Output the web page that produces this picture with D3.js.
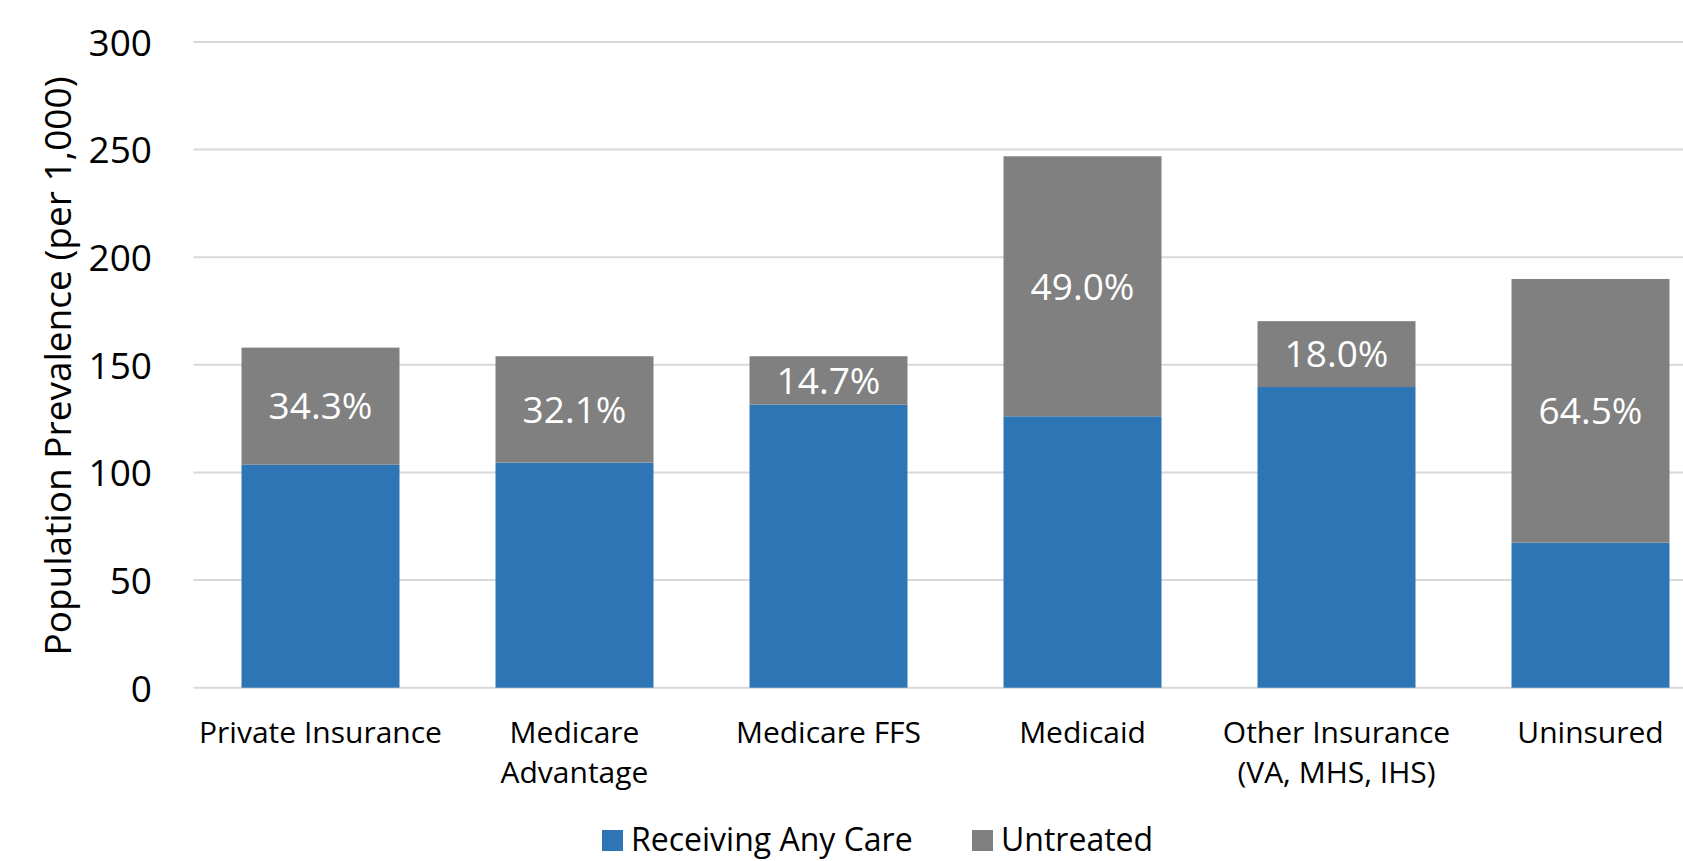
<!DOCTYPE html>
<html>
<head>
<meta charset="utf-8">
<script src="https://cdn.jsdelivr.net/npm/d3@7/dist/d3.min.js"></script>
<style>
  html, body { margin: 0; padding: 0; background: #fff; }
  svg { display: block; }
  text { font-family: "Open Sans", "Noto Sans", sans-serif; fill: #000; }
</style>
</head>
<body>
<svg id="chart" width="1683" height="861"></svg>
<script>
const categories = [
  ["Private Insurance"],
  ["Medicare", "Advantage"],
  ["Medicare FFS"],
  ["Medicaid"],
  ["Other Insurance", "(VA, MHS, IHS)"],
  ["Uninsured"]
];
const receivingAnyCare = [103.6, 104.6, 131.5, 126.1, 139.7, 67.4];
const untreated = [54.4, 49.4, 22.5, 120.8, 30.6, 122.5];
const untreatedLabels = ["34.3%", "32.1%", "14.7%", "49.0%", "18.0%", "64.5%"];
const yTicks = [0, 50, 100, 150, 200, 250, 300];
const seriesNames = ["Receiving Any Care", "Untreated"];
const seriesColors = ["#2E75B6", "#808080"];

const svg = d3.select("#chart");
const plotLeft = 193.5, plotRight = 1717.5, plotTop = 42, plotBottom = 687.7;

const x = d3.scaleBand()
  .domain(d3.range(categories.length))
  .range([plotLeft, plotRight])
  .paddingInner(0.378)
  .paddingOuter(0.189);

const y = d3.scaleLinear().domain([0, 300]).range([plotBottom, plotTop]);

// gridlines
svg.append("g").selectAll("line").data(yTicks).join("line")
  .attr("x1", plotLeft).attr("x2", plotRight)
  .attr("y1", d => y(d)).attr("y2", d => y(d))
  .attr("stroke", "#d9d9d9").attr("stroke-width", 2);

// y axis tick labels
const yAxis = d3.axisLeft(y).tickValues(yTicks).tickSize(0).tickPadding(0);
const yg = svg.append("g").attr("transform", "translate(152,0)").call(yAxis);
yg.select(".domain").remove();
yg.selectAll("text")
  .attr("font-family", "'Open Sans', sans-serif")
  .attr("font-size", 37).attr("fill", "#000")
  .attr("dy", "0.36em").attr("x", 0);

// stacked data
const stackData = categories.map((c, i) => ({ i, r: receivingAnyCare[i], u: untreated[i] }));
const stack = d3.stack().keys(["r", "u"]);
const layers = stack(stackData);

svg.append("g").selectAll("g").data(layers).join("g")
  .attr("fill", (d, k) => seriesColors[k])
  .selectAll("rect").data(d => d).join("rect")
  .attr("x", d => x(d.data.i))
  .attr("width", x.bandwidth())
  .attr("y", d => y(d[1]))
  .attr("height", d => y(d[0]) - y(d[1]));

// percent labels in untreated segments
svg.append("g").selectAll("text").data(layers[1]).join("text")
  .attr("x", d => x(d.data.i) + x.bandwidth() / 2)
  .attr("y", d => (y(d[0]) + y(d[1])) / 2)
  .attr("dy", "0.36em")
  .attr("text-anchor", "middle")
  .attr("font-size", 37)
  .style("fill", "#fff")
  .text((d, k) => untreatedLabels[k]);

// x category labels
const xg = svg.append("g");
categories.forEach((lines, i) => {
  const t = xg.append("text")
    .attr("x", x(i) + x.bandwidth() / 2)
    .attr("y", 742.7)
    .attr("text-anchor", "middle")
    .attr("font-size", 30);
  lines.forEach((ln, j) => {
    t.append("tspan")
      .attr("x", x(i) + x.bandwidth() / 2)
      .attr("dy", j === 0 ? 0 : 40.6)
      .text(ln);
  });
});

// y axis title
svg.append("text")
  .attr("transform", "translate(71,366) rotate(-90)")
  .attr("text-anchor", "middle")
  .attr("font-size", 37)
  .text("Population Prevalence (per 1,000)");

// legend
const legendX = [602, 972];
const lg = svg.append("g");
seriesNames.forEach((name, k) => {
  lg.append("rect")
    .attr("x", legendX[k]).attr("y", 830)
    .attr("width", 21).attr("height", 21)
    .attr("fill", seriesColors[k]);
  lg.append("text")
    .attr("x", legendX[k] + 29).attr("y", 850.5)
    .attr("font-size", 32)
    .text(name);
});
</script>
</body>
</html>
